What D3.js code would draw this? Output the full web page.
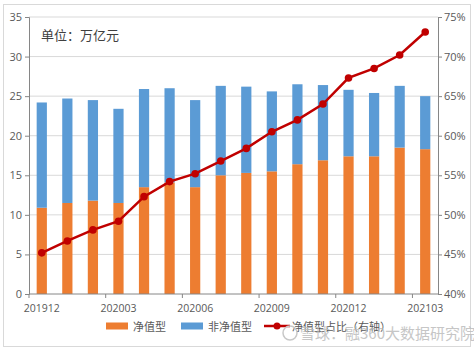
<!DOCTYPE html>
<html>
<head>
<meta charset="utf-8">
<script src="https://cdn.jsdelivr.net/npm/d3@7"></script>
<style>
  body { margin: 0; background: #fff; }
  text { font-family: "Noto Sans CJK SC", "Noto Sans", sans-serif; }
</style>
</head>
<body>
<div id="chart"></div>
<script>
const months = ["201912","202001","202002","202003","202004","202005","202006","202007",
                "202008","202009","202010","202011","202012","202101","202102","202103"];
const netValue = [10.9, 11.5, 11.8, 11.5, 13.5, 14.1, 13.5, 15.0, 15.3, 15.5, 16.4, 16.9, 17.4, 17.4, 18.5, 18.3];
const totalValue = [24.2, 24.7, 24.5, 23.4, 25.9, 26.0, 24.5, 26.3, 26.2, 25.6, 26.5, 26.4, 25.8, 25.4, 26.3, 25.0];
const nonNetValue = totalValue.map((t, i) => +(t - netValue[i]).toFixed(1));
const netShare = [45.2, 46.7, 48.1, 49.2, 52.3, 54.2, 55.2, 56.8, 58.4, 60.5, 62.0, 64.0, 67.3, 68.5, 70.2, 73.1];
const leftTicks = [0, 5, 10, 15, 20, 25, 30, 35];
const rightTicks = [40, 45, 50, 55, 60, 65, 70, 75];
const labelMonths = ["201912","202003","202006","202009","202012","202103"];

const W = 474, H = 350;
const margin = {top: 17, right: 36, bottom: 56, left: 29},
      width = W - margin.left - margin.right,
      height = H - margin.top - margin.bottom;

const root = d3.select("#chart").append("svg")
  .attr("width", W).attr("height", H);

// outer frame
root.append("rect")
  .attr("x", 3.5).attr("y", 4.5).attr("width", W - 7).attr("height", H - 8)
  .attr("fill", "#fff").attr("stroke", "#d9d9d9");

const svg = root.append("g").attr("transform", `translate(${margin.left},${margin.top})`);

const x = d3.scaleBand().domain(months).range([0, width]).paddingInner(0.6).paddingOuter(0.3);
const step = x.step();
const y = d3.scaleLinear().domain([0, 35]).range([height, 0]);
const y2 = d3.scaleLinear().domain([40, 75]).range([height, 0]);

// gridlines
svg.append("g").selectAll("line").data(leftTicks.slice(1)).join("line")
  .attr("x1", 0).attr("x2", width)
  .attr("y1", d => y(d)).attr("y2", d => y(d))
  .attr("stroke", "#d9d9d9");

// stacked bars
svg.append("g").selectAll("rect").data(months).join("rect")
  .attr("x", d => x(d)).attr("width", x.bandwidth())
  .attr("y", (d, i) => y(netValue[i]))
  .attr("height", (d, i) => y(0) - y(netValue[i]))
  .attr("fill", "#ed7d31");
svg.append("g").selectAll("rect").data(months).join("rect")
  .attr("x", d => x(d)).attr("width", x.bandwidth())
  .attr("y", (d, i) => y(netValue[i] + nonNetValue[i]))
  .attr("height", (d, i) => y(netValue[i]) - y(netValue[i] + nonNetValue[i]))
  .attr("fill", "#5b9bd5");

// axes
const axisColor = "#868686", labelColor = "#595959";
const yAxis = svg.append("g")
  .call(d3.axisLeft(y).tickValues(leftTicks).tickSize(4).tickPadding(3));
const y2Axis = svg.append("g").attr("transform", `translate(${width},0)`)
  .call(d3.axisRight(y2).tickValues(rightTicks).tickSize(4).tickPadding(2).tickFormat(d => d + "%"));
[yAxis, y2Axis].forEach(a => {
  a.select(".domain").attr("stroke", axisColor);
  a.selectAll(".tick line").attr("stroke", axisColor);
  a.selectAll("text").attr("fill", labelColor).attr("font-size", 11)
    .style("font-family", "'Open Sans', sans-serif");
});

const xAxis = svg.append("g").attr("transform", `translate(0,${height})`);
xAxis.append("line").attr("x1", 0).attr("x2", width).attr("stroke", axisColor);
xAxis.selectAll(".tk").data(d3.range(0, months.length + 1, 3)).join("line")
  .attr("x1", d => d * step).attr("x2", d => d * step)
  .attr("y1", 0).attr("y2", 4).attr("stroke", axisColor);
xAxis.selectAll("text").data(labelMonths).join("text")
  .attr("x", d => x(d) + x.bandwidth() / 2).attr("y", 18)
  .attr("text-anchor", "middle").attr("fill", labelColor).attr("font-size", 10.5)
  .style("font-family", "'Open Sans', sans-serif")
  .text(d => d);

// share line
const line = d3.line().x(d => x(d[0]) + x.bandwidth() / 2).y(d => y2(d[1]));
const pts = months.map((m, i) => [m, netShare[i]]);
svg.append("path").datum(pts).attr("d", line)
  .attr("fill", "none").attr("stroke", "#c00000").attr("stroke-width", 2.5);
svg.append("g").selectAll("circle").data(pts).join("circle")
  .attr("cx", d => x(d[0]) + x.bandwidth() / 2).attr("cy", d => y2(d[1]))
  .attr("r", 3.8).attr("fill", "#c00000");

// unit note
root.append("text").attr("x", 41).attr("y", 40)
  .attr("font-size", 13).attr("fill", "#404040").text("单位：万亿元");

// legend
const leg = root.append("g").attr("transform", "translate(0,326)");
leg.append("rect").attr("x", 106).attr("y", -3.5).attr("width", 22).attr("height", 7).attr("fill", "#ed7d31");
leg.append("text").attr("x", 133).attr("y", 4.5).attr("font-size", 11).attr("fill", labelColor).text("净值型");
leg.append("rect").attr("x", 181).attr("y", -3.5).attr("width", 22).attr("height", 7).attr("fill", "#5b9bd5");
leg.append("text").attr("x", 208).attr("y", 4.5).attr("font-size", 11).attr("fill", labelColor).text("非净值型");
leg.append("line").attr("x1", 264).attr("x2", 290).attr("y1", 0).attr("y2", 0)
  .attr("stroke", "#c00000").attr("stroke-width", 2.5);
leg.append("circle").attr("cx", 277).attr("cy", 0).attr("r", 3.5).attr("fill", "#c00000");
leg.append("text").attr("x", 292).attr("y", 4.5).attr("font-size", 11).attr("fill", labelColor).text("净值型占比（右轴）");

// watermark
root.append("circle").attr("cx", 290).attr("cy", 333).attr("r", 7)
  .attr("fill", "none").attr("stroke", "#c8c8c8").attr("stroke-width", 1.5);
root.append("text").attr("x", 300).attr("y", 339)
  .attr("font-size", 15).attr("fill", "#bdbdbd").attr("opacity", 0.85)
  .text("雪球：融360大数据研究院");
</script>
</body>
</html>
